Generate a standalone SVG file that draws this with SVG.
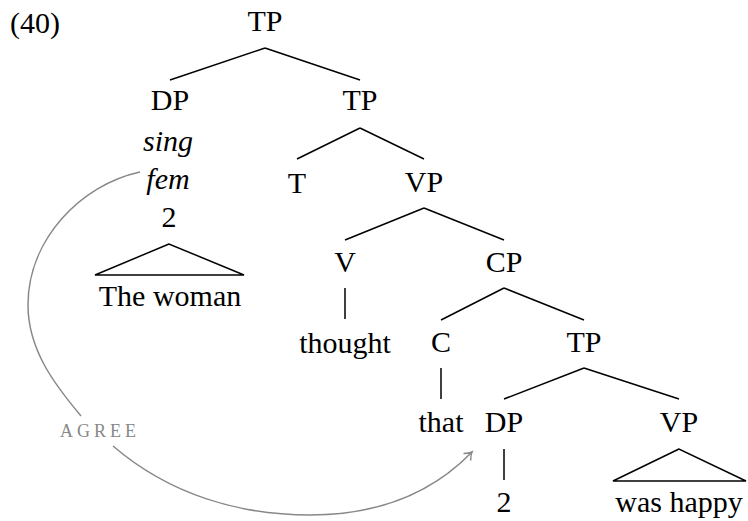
<svg xmlns="http://www.w3.org/2000/svg" width="748" height="521" viewBox="0 0 748 521">
<text x="10" y="33" font-family="Liberation Serif" font-size="30">(40)</text>
<g id="connectors" fill="none" stroke-width="1.5">
<g stroke="#000">
<path d="M265,48 L170,80 M265,48 L360,80"/>
<path d="M360,128 L297,159 M360,128 L424,159"/>
<path d="M424,208 L345,240 M424,208 L504,240"/>
<path d="M345,288 L345,319"/>
<path d="M504,288 L441,320 M504,288 L584,320"/>
<path d="M441,368 L441,399"/>
<path d="M584,368 L504,399 M584,368 L679,399"/>
<path d="M504,449 L504,480"/>
<path d="M169,244 L95,275 L244,275 Z"/>
<path d="M679,449 L613,481 L746,481 Z"/>
</g>
<g stroke="#888">
<path d="M140,172 C80,185 28,240 28,305 C28,350 55,385 81,416"/>
<path d="M113,446 C170,495 240,515 310,515 C390,515 440,485 472,452"/>
<path d="M470.7,460.5 Q470.6,454.9 472,452 Q469.2,453.5 463.5,453.5"/>
</g>
<text x="60" y="437" font-family="Liberation Serif" font-size="18" fill="#888" stroke="none" letter-spacing="4">AGREE</text>
</g>
<g font-family="Liberation Serif" font-size="30" text-anchor="middle">
<g id="tp1"><text x="265" y="31" font-family="Liberation Serif">TP</text></g>
<g id="dp1"><text x="170" y="110" font-family="Liberation Serif">DP</text><text x="168" y="151" font-family="Liberation Serif" font-style="italic">sing</text><text x="168" y="189" font-family="Liberation Serif" font-style="italic">fem</text><text x="169" y="227" font-family="Liberation Serif">2</text><text x="170" y="306" font-family="Liberation Serif">The woman</text></g>
<g id="tp2"><text x="360" y="110" font-family="Liberation Serif">TP</text></g>
<g id="t"><text x="297" y="193" font-family="Liberation Serif">T</text></g>
<g id="vp1"><text x="424" y="192" font-family="Liberation Serif">VP</text></g>
<g id="v"><text x="345" y="272" font-family="Liberation Serif">V</text></g>
<g id="thought"><text x="345" y="353" font-family="Liberation Serif">thought</text></g>
<g id="cp"><text x="504" y="272" font-family="Liberation Serif">CP</text></g>
<g id="c"><text x="441" y="352" font-family="Liberation Serif">C</text></g>
<g id="tp3"><text x="584" y="352" font-family="Liberation Serif">TP</text></g>
<g id="that"><text x="441" y="432" font-family="Liberation Serif">that</text></g>
<g id="dp2"><text x="504" y="432" font-family="Liberation Serif">DP</text></g>
<g id="two"><text x="504" y="512" font-family="Liberation Serif">2</text></g>
<g id="vp2"><text x="679" y="432" font-family="Liberation Serif">VP</text><text x="679" y="512" font-family="Liberation Serif">was happy</text></g>
</g>
</svg>
